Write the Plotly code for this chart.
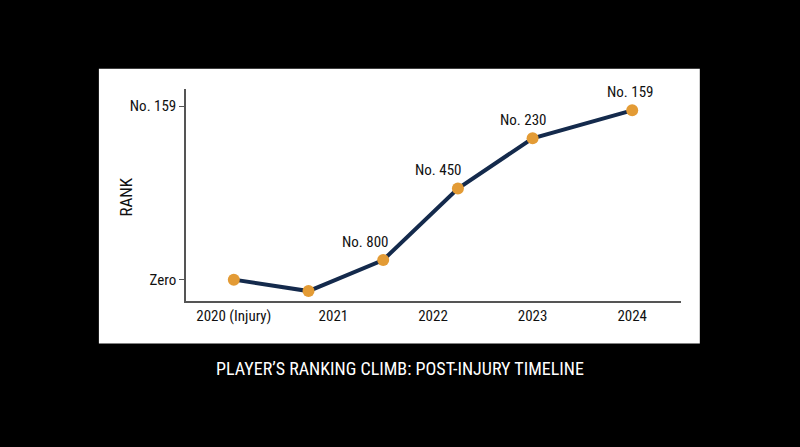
import plotly.graph_objects as go

# positions along the timeline (0 = 2020, 4 = 2024)
x_vals = [0, 0.75, 1.5, 2.25, 3, 4]
# relative climb (Zero = 0, No. 159 = 100)
y_vals = [0, -6.6, 11.3, 52.5, 81.4, 97.5]
point_labels = ['', '', 'No. 800', 'No. 450', 'No. 230', 'No. 159']

x_tickvals = [0, 1, 2, 3, 4]
x_ticktext = ['2020 (Injury)', '2021', '2022', '2023', '2024']
y_tickvals = [0, 100]
y_ticktext = ['Zero', 'No. 159']

FONT = 'Roboto Condensed, Liberation Sans Narrow, Roboto, sans-serif'
label_xshift = [0, 0, -18, -20, -10, -2]

fig = go.Figure()

fig.add_trace(go.Scatter(
    x=x_vals,
    y=y_vals,
    mode='lines+markers',
    line=dict(color='#142a4c', width=4),
    marker=dict(color='#e39b35', size=12),
    showlegend=False,
    hoverinfo='skip',
    cliponaxis=False
))

for xv, yv, lab, dx in zip(x_vals, y_vals, point_labels, label_xshift):
    if lab:
        fig.add_annotation(x=xv, y=yv, text=lab, showarrow=False,
                           xanchor='center', yanchor='bottom',
                           xshift=dx, yshift=7,
                           font=dict(size=15, color='#111111'))

# white card behind the chart
fig.add_shape(type='rect', xref='paper', yref='paper',
              x0=-0.176, x1=1.038, y0=-0.20, y1=1.095,
              fillcolor='white', line=dict(width=0), layer='below')

fig.add_annotation(text="PLAYER’S RANKING CLIMB: POST-INJURY TIMELINE",
                   xref='paper', yref='paper', x=0.432, y=-0.32,
                   xanchor='center', yanchor='middle', showarrow=False,
                   font=dict(size=18, color='white'))

fig.add_annotation(text='RANK', xref='paper', yref='paper',
                   x=-0.122, y=0.491, textangle=-90,
                   xanchor='center', yanchor='middle', showarrow=False,
                   font=dict(size=17, color='#111111'))

fig.update_layout(
    width=800, height=447,
    margin=dict(l=186, r=119, t=89, b=146),
    paper_bgcolor='black',
    plot_bgcolor='white',
    font=dict(family=FONT, color='#111111'),
    xaxis=dict(range=[-0.48, 4.49], tickvals=x_tickvals, ticktext=x_ticktext,
               showgrid=False, zeroline=False, showline=True,
               linecolor='#555555', linewidth=1.5, ticks='',
               tickfont=dict(size=15, color='#111111')),
    yaxis=dict(range=[-12.3, 109.8], tickvals=y_tickvals, ticktext=y_ticktext,
               showgrid=False, zeroline=False, showline=True,
               linecolor='#555555', linewidth=1.5, ticks='outside',
               ticklen=5, tickcolor='#555555',
               tickfont=dict(size=15, color='#111111'))
)

fig.write_html("out.html",
               config={'displayModeBar': False},
               post_script="document.body.style.margin='0';"
                           "document.body.style.background='black';")
